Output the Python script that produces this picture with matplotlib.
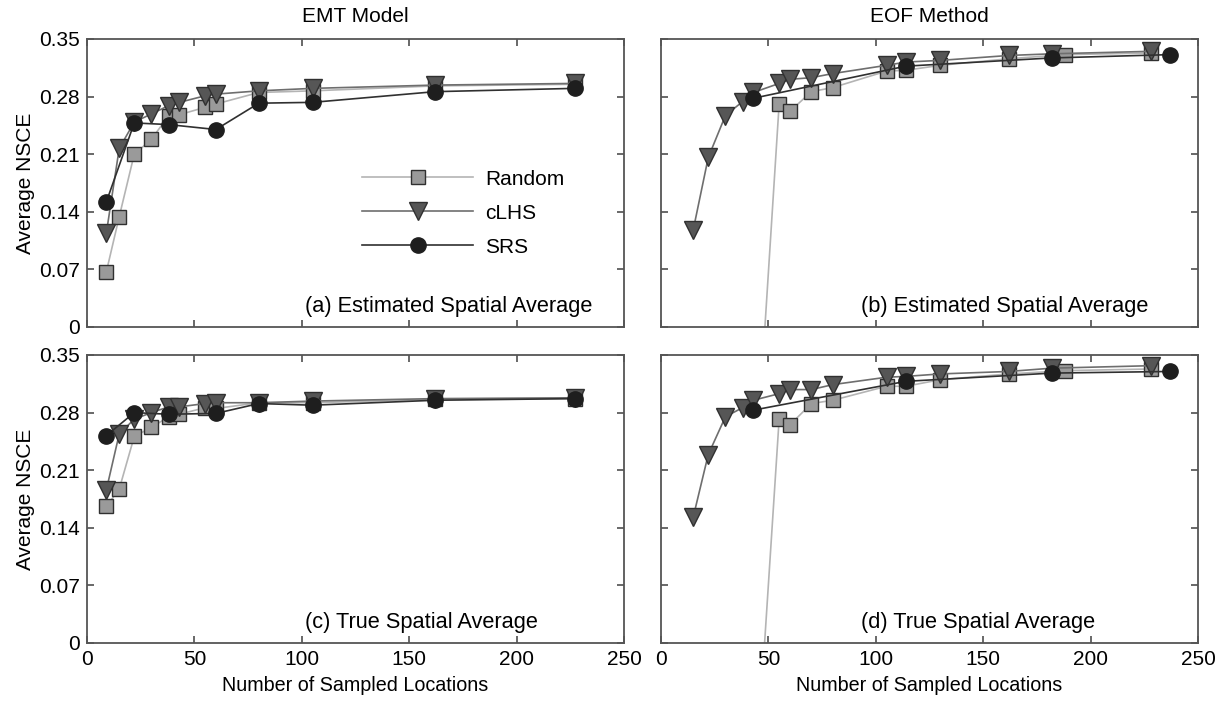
import matplotlib
matplotlib.use("Agg")
import matplotlib.pyplot as plt

plt.rcParams['font.family'] = ['Liberation Sans', 'DejaVu Sans']

# sample sizes
emt_x = [9, 15, 22, 30, 38, 43, 55, 60, 80, 105, 162, 227]
emt_srs_x = [9, 22, 38, 60, 80, 105, 162, 227]
eof_clhs_x = [15, 22, 30, 38, 43, 55, 60, 70, 80, 105, 114, 130, 162, 182, 228]
eof_rand_x = [43, 55, 60, 70, 80, 105, 114, 130, 162, 188, 228]
eof_srs_x = [43, 114, 182, 237]

# (a) EMT model, estimated spatial average
a_random = [0.067, 0.134, 0.210, 0.228, 0.257, 0.258, 0.267, 0.271, 0.285, 0.287, 0.293, 0.295]
a_clhs = [0.114, 0.217, 0.249, 0.259, 0.269, 0.273, 0.281, 0.283, 0.287, 0.290, 0.294, 0.296]
a_srs = [0.152, 0.248, 0.246, 0.240, 0.272, 0.273, 0.286, 0.290]

# (b) EOF method, estimated spatial average
b_random = [-0.22, 0.271, 0.262, 0.286, 0.291, 0.311, 0.312, 0.318, 0.326, 0.331, 0.333]
b_clhs = [0.118, 0.206, 0.257, 0.274, 0.285, 0.296, 0.301, 0.303, 0.308, 0.318, 0.322, 0.324, 0.330, 0.332, 0.335]
b_srs = [0.278, 0.317, 0.327, 0.331]

# (c) EMT model, true spatial average
c_random = [0.166, 0.187, 0.251, 0.262, 0.275, 0.278, 0.286, 0.285, 0.292, 0.292, 0.296, 0.297]
c_clhs = [0.186, 0.254, 0.272, 0.280, 0.287, 0.287, 0.291, 0.292, 0.292, 0.294, 0.297, 0.298]
c_srs = [0.252, 0.280, 0.278, 0.279, 0.291, 0.289, 0.295, 0.297]

# (d) EOF method, true spatial average
d_random = [-0.21, 0.272, 0.265, 0.291, 0.295, 0.312, 0.312, 0.320, 0.327, 0.331, 0.333]
d_clhs = [0.153, 0.229, 0.275, 0.286, 0.295, 0.303, 0.308, 0.308, 0.314, 0.323, 0.324, 0.327, 0.330, 0.334, 0.337]
d_srs = [0.283, 0.318, 0.328, 0.330]

xticks = [0, 50, 100, 150, 200, 250]
yticks = [0, 0.07, 0.14, 0.21, 0.28, 0.35]
ytick_labels = ['0', '0.07', '0.14', '0.21', '0.28', '0.35']

FS = 15

styles = {
    'Random': dict(color='#b4b4b4', marker='s', markersize=9.5, markerfacecolor='#9a9a9a',
                   markeredgecolor='#303030', lw=1.2, zorder=2),
    'cLHS': dict(color='#6e6e6e', marker='v', markersize=12.5, markerfacecolor='#565656',
                 markeredgecolor='#303030', lw=1.2, zorder=3),
    'SRS': dict(color='#303030', marker='o', markersize=11, markerfacecolor='#1e1e1e',
                markeredgecolor='#1e1e1e', lw=1.2, zorder=4),
}

fig = plt.figure(figsize=(12.28, 7.08), dpi=100)
w, h = 537 / 1228, 288 / 708
lefts = [87 / 1228, 661 / 1228]
bottoms = [1 - 327 / 708, 1 - 643 / 708]

panels = [
    (0, 0, emt_x, a_random, emt_x, a_clhs, emt_srs_x, a_srs, '(a) Estimated Spatial Average', 0.406),
    (0, 1, eof_rand_x, b_random, eof_clhs_x, b_clhs, eof_srs_x, b_srs, '(b) Estimated Spatial Average', 0.373),
    (1, 0, emt_x, c_random, emt_x, c_clhs, emt_srs_x, c_srs, '(c) True Spatial Average', 0.406),
    (1, 1, eof_rand_x, d_random, eof_clhs_x, d_clhs, eof_srs_x, d_srs, '(d) True Spatial Average', 0.373),
]

axes = {}
for row, col, rx, ry, cx, cy, sx, sy, label, lx in panels:
    ax = fig.add_axes([lefts[col], bottoms[row], w, h])
    axes[(row, col)] = ax
    ax.plot(rx, ry, label='Random', **styles['Random'])
    ax.plot(cx, cy, label='cLHS', **styles['cLHS'])
    ax.plot(sx, sy, label='SRS', **styles['SRS'])
    ax.set_xlim(0, 250)
    ax.set_ylim(0, 0.35)
    ax.set_xticks(xticks)
    ax.set_yticks(yticks)
    ax.tick_params(direction='in', length=5, width=1.1, color='#404040',
                   top=True, right=True, labelsize=FS, pad=5)
    for s in ax.spines.values():
        s.set_color('#555555')
        s.set_linewidth(1.3)
    if col == 0:
        ax.set_yticklabels(ytick_labels)
        ax.set_ylabel('Average NSCE', fontsize=FS, labelpad=3)
    else:
        ax.set_yticklabels([])
    if row == 0:
        ax.set_xticklabels([])
    else:
        ax.set_xlabel('Number of Sampled Locations', fontsize=14.2, labelpad=5)
    ax.text(lx, 0.07, label, transform=ax.transAxes, fontsize=15.7, ha='left', va='center')

axes[(0, 0)].set_title('EMT Model', fontsize=FS, pad=12)
axes[(0, 1)].set_title('EOF Method', fontsize=FS, pad=12)

axes[(0, 0)].legend(loc='center left', bbox_to_anchor=(0.478, 0.395), frameon=False,
                    fontsize=FS, handlelength=5.3, handletextpad=0.6, labelspacing=0.72)

fig.savefig('out.png', dpi=100)
